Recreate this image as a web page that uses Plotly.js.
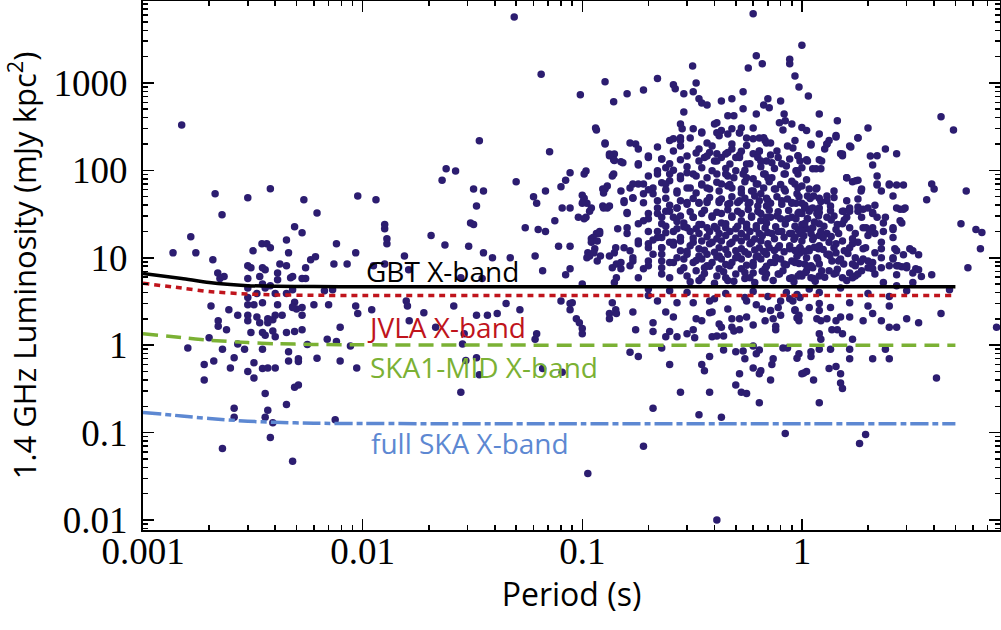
<!DOCTYPE html>
<html>
<head>
<meta charset="utf-8">
<script src="https://cdn.plot.ly/plotly-3.0.1.min.js"></script>
<style>
  html, body { margin: 0; padding: 0; background: #fff; }
  #chart { width: 1001px; height: 630px; }
</style>
</head>
<body>
<div id="chart"></div>
<script>
// Pulsar periods (s) and 1.4 GHz luminosities (mJy kpc^2).

// millisecond pulsars, P < ~0.01 s
const fastPeriod = [
  0.0015, 0.00137, 0.00165, 0.00174, 0.00213, 0.00229, 0.00208, 0.00219, 0.00234, 0.00224,
  0.00204, 0.00246, 0.0027, 0.003, 0.0038, 0.00317, 0.00348, 0.00366, 0.0038, 0.003,
  0.0031, 0.0036, 0.003, 0.0034, 0.0041, 0.0041, 0.0045, 0.0049, 0.0046, 0.0053,
  0.0054, 0.0062, 0.0058, 0.0061, 0.0055, 0.0047, 0.0048, 0.0053, 0.0055, 0.0076,
  0.0074, 0.0085, 0.0095, 0.0093, 0.0093, 0.0095, 0.0067, 0.0073, 0.006, 0.007,
  0.0049, 0.0048, 0.005, 0.0053, 0.0041, 0.0035, 0.003, 0.0032, 0.003, 0.0033,
  0.003, 0.0035, 0.0036, 0.0048, 0.004, 0.0045, 0.003, 0.0033, 0.0037, 0.004,
  0.0022, 0.0022, 0.0024, 0.003, 0.0034, 0.0037, 0.0039, 0.0043, 0.0048, 0.0053,
  0.0031, 0.0035, 0.0036, 0.0039, 0.0045, 0.0049, 0.0053, 0.0056, 0.0069, 0.0079,
  0.0076, 0.0088, 0.0094, 0.0079, 0.0062, 0.0051, 0.0051, 0.0046, 0.0046, 0.004,
  0.004, 0.0035, 0.0035, 0.0037, 0.0032, 0.0032, 0.003, 0.0029, 0.0026, 0.0025,
  0.0023, 0.0021, 0.0019, 0.0019, 0.0016, 0.002, 0.0027, 0.0036, 0.0037, 0.0045,
  0.0049, 0.0051, 0.0026, 0.0026, 0.0036, 0.0039, 0.0038, 0.0023, 0.0048, 0.0075,
  0.0045, 0.0035, 0.0042, 0.0038
];
const fastLum = [
  330, 11.4, 17.4, 11.4, 54, 31, 9.5, 6.7, 6.1, 5.8,
  2.8, 2.55, 2.2, 48.5, 61.5, 12, 14.5, 14.5, 13, 8.1,
  7.7, 7.3, 5.8, 6.1, 6.7, 5.6, 16, 22.6, 11.4, 19.3,
  46, 32.5, 9.5, 10.3, 7.7, 5.9, 6.1, 5.8, 5.8, 14.5,
  8.5, 8.5, 51, 11.4, 2.8, 2.3, 4.2, 4.3, 2.9, 2.9,
  3.1, 2.75, 2.6, 2.2, 2.9, 3.05, 2.9, 2.9, 3.5, 3.9,
  4.5, 5.0, 4.5, 4.3, 3.9, 3.9, 2.2, 2.1, 2.0, 2.2,
  1.9, 1.65, 1.5, 1.9, 1.8, 1.8, 1.95, 2.2, 2.7, 2.7,
  1.4, 1.4, 1.3, 1.45, 1.4, 1.43, 1.5, 1.02, 1.17, 1.6,
  1.1, 0.98, 0.55, 0.66, 0.71, 0.7, 0.65, 0.66, 0.84, 1.25,
  0.55, 0.54, 0.9, 0.55, 0.63, 0.42, 0.5, 0.9, 0.72, 0.55,
  0.9, 0.66, 0.6, 0.4, 0.93, 1.22, 1.03, 0.28, 0.18, 0.21,
  0.33, 0.35, 0.19, 0.15, 0.15, 0.13, 0.088, 0.066, 0.047, 0.14,
  8.1, 7.7, 8.5, 4.8
];

// the sparse gap, 0.01 - 0.1 s
const midPeriod = [
  0.0115, 0.0126, 0.0129, 0.0112, 0.0126, 0.011, 0.049, 0.065, 0.098, 0.034,
  0.071, 0.024, 0.0265, 0.023, 0.05, 0.032, 0.0355, 0.033, 0.088, 0.084,
  0.08, 0.068, 0.06, 0.062, 0.081, 0.088, 0.075, 0.055, 0.063, 0.068,
  0.031, 0.032, 0.0205, 0.0129, 0.0126, 0.0237, 0.0304, 0.0355, 0.039, 0.047,
  0.061, 0.078, 0.088, 0.088, 0.066, 0.084, 0.0155, 0.0162, 0.028, 0.035,
  0.0158, 0.016, 0.026, 0.019, 0.041, 0.045, 0.052, 0.037, 0.033, 0.0163,
  0.0215, 0.029, 0.0285, 0.033, 0.0295, 0.034, 0.028, 0.062, 0.061, 0.066,
  0.081, 0.08, 0.088, 0.088, 0.09, 0.094, 0.097
];
const midLum = [
  46, 21.5, 14.5, 8.1, 8.5, 2.55, 5680, 1260, 730, 218,
  163, 104, 98, 77, 74, 61, 58, 39, 94, 77,
  65, 58, 50, 42, 37, 37, 26.5, 22, 21, 20,
  25, 24, 18, 16.5, 24, 14, 13.5, 11.4, 10, 10,
  10.5, 13.5, 13.5, 7.5, 7.1, 6.4, 10.5, 7.3, 5.9, 5.8,
  3.2, 2.8, 2.8, 2.35, 2.3, 3.0, 2.55, 2.2, 2.2, 1.9,
  1.6, 1.35, 1.03, 0.72, 0.67, 0.46, 0.29, 1.35, 1.17, 0.54,
  0.49, 3.2, 3.0, 2.55, 3.05, 2.0, 1.8
];

// normal pulsars, P > 0.1 s
const slowPeriod = [
  0.127, 0.139, 0.115, 0.127, 0.133, 0.14, 0.139, 0.104, 0.1, 0.101,
  0.105, 0.096, 0.104, 0.11, 0.124, 0.13, 0.124, 0.133, 0.139, 0.11,
  0.114, 0.121, 0.106, 0.108, 0.12, 0.116, 0.112, 0.1, 0.1, 0.133,
  0.142, 0.106, 0.137, 0.143, 0.143, 0.133, 0.142,
  0.6, 0.62, 1.0, 0.88, 0.93, 0.97, 1.07, 1.2, 1.45,
  0.318, 0.57, 0.66, 0.88, 0.22, 0.26, 0.265, 0.33, 0.32, 0.19,
  0.16, 0.29, 0.34, 0.35, 0.37, 0.43, 0.48, 0.54, 0.29, 0.41,
  0.46, 0.49, 0.54, 0.62, 0.67, 0.7, 0.71, 0.8, 0.83, 0.79,
  0.84, 0.9, 0.82, 1.0, 1.05, 0.116, 0.28, 0.285, 0.32, 0.35,
  0.4, 0.41, 0.43, 0.48, 0.53, 0.52, 0.56, 0.6, 0.64, 0.68,
  0.72, 0.64, 0.6, 0.53, 0.48, 0.46, 0.41, 0.37, 0.34, 0.31,
  0.28, 0.25, 0.22, 0.18, 0.165, 0.175, 0.127, 0.133, 0.14, 0.15,
  0.102, 0.137, 0.2, 0.18, 0.22, 0.23, 0.24, 0.28, 0.3, 0.34,
  0.36, 0.4, 0.43, 0.47, 0.52, 0.56, 0.63, 0.69, 0.78, 0.88,
  0.98, 0.95, 0.84, 0.73, 0.67, 0.6, 0.54, 0.49, 0.46, 0.41,
  0.37, 0.33, 0.28, 0.25, 0.23, 0.2, 0.18, 0.165, 0.15, 0.127,
  0.125, 0.102, 0.1, 0.102, 0.108, 0.125, 0.13, 0.17, 0.19, 0.21,
  0.155, 0.16, 0.2, 0.22, 0.24, 0.27, 0.3, 0.33, 0.37, 0.42,
  0.46, 0.53, 0.6, 0.67, 0.76, 0.84, 0.95, 1.0, 0.9, 0.81,
  0.72, 0.64, 0.58, 0.52, 0.47, 0.42, 0.37, 0.34, 0.3, 0.27,
  0.25, 0.23, 0.19, 0.16, 0.145, 0.12, 0.11, 0.117, 0.105, 0.113,
  0.14, 0.165, 0.18, 0.2, 0.23, 0.26, 0.29, 0.32, 0.35, 0.39,
  0.43, 0.48, 0.53, 0.59, 0.65, 0.72, 0.8, 0.9, 1.0, 0.98,
  0.88, 0.78, 0.7, 0.64, 0.58, 0.53, 0.47, 0.42, 0.38, 0.34,
  0.31, 0.28, 0.25, 0.23, 0.28, 0.31, 0.34, 0.38, 0.42, 0.47,
  0.53, 0.58, 0.64, 0.7, 0.78, 0.88, 0.98, 0.9, 0.8, 0.72,
  0.65, 0.6, 0.53, 0.48, 0.43, 0.39, 0.35, 0.32, 0.29, 0.26,
  0.23, 0.2, 0.17, 0.15, 0.117,
  0.15, 0.165, 0.19, 0.2, 0.23, 0.25, 0.28, 0.3, 0.34, 0.36,
  0.41, 0.46, 0.5, 0.55, 0.6, 0.68, 0.78, 0.88, 0.98, 0.14,
  0.137, 0.143, 0.133, 0.17, 0.175, 0.21, 0.21, 0.24, 0.25, 0.24,
  0.26, 0.27, 0.3, 0.32, 0.325, 0.33, 0.35, 0.38, 0.39, 0.42,
  0.39, 0.41, 0.43, 0.44, 0.48, 0.48, 0.49, 0.52, 0.52, 0.56,
  0.6, 0.46, 0.68, 0.74, 0.76, 0.76, 0.8, 0.78, 0.72, 0.66,
  0.62, 0.56, 0.93, 0.95, 0.97, 0.8, 0.88, 0.38, 0.32, 0.27,
  0.22, 0.2, 0.1, 0.165, 0.18, 0.23, 0.25, 0.35, 0.36, 0.38,
  0.44, 0.5, 0.54, 0.55, 0.6, 0.64, 0.62, 0.6, 0.65, 0.64,
  0.52, 0.5, 0.53, 0.56, 0.73, 0.72, 0.74, 0.82, 0.86, 0.95,
  0.97, 1.0, 1.05, 0.28, 0.38, 0.21, 0.34, 0.43, 0.64, 0.84,
  0.19, 0.41,
  2.0, 4.3, 4.9, 1.2, 1.3, 1.33, 1.43, 1.1, 1.27, 1.67,
  1.8, 1.5, 1.53, 0.93, 0.91, 0.96, 1.05, 1.2, 1.12, 1.22,
  2.2, 2.4, 2.7, 2.1, 2.2, 1.6, 1.7, 1.8, 1.87, 2.2,
  2.3, 2.5, 2.7, 2.9, 2.6, 3.9, 4.0, 3.7, 5.6, 5.3,
  6.2, 6.6, 6.5, 5.7, 3.3, 3.4, 3.2, 2.9, 2.95, 2.8,
  2.85, 2.6, 2.6, 2.7, 2.6, 2.4, 2.35, 2.2, 2.15, 2.0,
  2.1, 2.1, 2.15, 2.3, 2.0, 1.9, 1.8, 1.8, 1.9, 1.65,
  1.6, 1.55, 1.6, 1.53, 1.65, 1.75, 1.8, 1.95, 2.15, 2.3,
  2.0, 1.9, 1.75, 1.65, 1.53, 1.47, 1.43, 1.4, 1.35, 1.4,
  1.3, 1.2, 1.13, 1.17, 1.08, 1.0, 0.96, 1.0, 0.93, 0.94,
  1.03, 1.08, 1.0, 0.94, 1.06, 1.17, 1.2, 1.3, 1.2, 1.12,
  1.05, 0.96, 0.93, 1.0, 1.13, 1.2, 1.33, 1.2, 1.08, 0.98,
  1.05, 1.17, 1.3, 1.43, 1.37, 1.2, 1.1, 0.97, 1.55, 1.75,
  2.0, 2.3, 2.5, 3.0,
  3.9, 3.5, 3.4, 3.2, 2.85, 2.7, 2.7, 2.15, 2.1, 2.1,
  1.8, 1.75, 1.65, 1.53, 1.4, 1.33, 1.2, 1.13, 1.05, 0.96,
  2.35, 2.7, 3.2, 4.7, 2.5, 2.5, 2.0, 1.65, 1.65, 1.5,
  1.35, 1.2, 1.2, 1.08, 0.98, 0.91, 0.93, 0.97, 1.17, 1.22,
  1.3, 1.43, 1.9, 2.3, 2.1, 2.5, 2.7, 3.0, 3.4, 4.3,
  7.7, 1.37, 1.45, 1.53, 1.2, 1.22, 1.7, 1.2, 1.35, 1.65,
  1.65, 2.1, 2.4, 2.5, 1.1, 1.1, 1.33, 1.43, 1.5, 1.02,
  1.13, 1.5, 1.53, 1.2, 4.1, 1.95, 1.83, 1.2, 1.08, 1.5,
  2.0, 3.0
];
const slowLum = [
  1030, 610, 305, 206, 154, 154, 132, 98, 52, 44,
  42, 29, 29, 37, 61, 66, 39, 39, 91, 16.5,
  12.7, 10.5, 11.4, 10.5, 20, 19, 17, 1.55, 5.0, 2.3,
  2.55, 0.034, 7.7, 8.5, 5.9, 10.5, 13,
  6200, 2040, 2700, 1860, 1200, 900, 710, 440, 370,
  1560, 1480, 1660, 1660, 1120, 950, 860, 1000, 790, 830,
  750, 750, 660, 590, 560, 620, 660, 790, 465, 350,
  420, 420, 505, 440, 560, 660, 520, 620, 440, 350,
  370, 340, 290, 310, 285, 290, 340, 300, 300, 275,
  340, 270, 285, 300, 305, 270, 235, 305, 235, 220,
  205, 165, 155, 165, 175, 160, 155, 205, 175, 235,
  220, 220, 185, 175, 205, 200, 200, 147, 130, 125,
  91, 86, 140, 115, 99, 135, 107, 132, 94, 128,
  140, 128, 140, 118, 140, 118, 140, 128, 140, 135,
  128, 99, 91, 82, 91, 80, 91, 82, 86, 91,
  82, 86, 80, 76, 72, 86, 70, 63, 58, 61,
  55, 48, 42, 28, 34, 37, 37, 48, 54, 63,
  43, 33, 32, 37, 48, 55, 63, 55, 63, 58,
  66, 61, 58, 63, 61, 58, 54, 42, 42, 45,
  42, 45, 43, 45, 42, 45, 43, 42, 43, 37,
  34, 29, 26.5, 22, 21.5, 19, 15, 15.6, 10, 11.4,
  11.4, 12, 14.5, 13, 17, 20, 25, 29, 24, 29,
  25, 29, 26.5, 29, 26.5, 29, 28, 29, 24, 19,
  19, 20, 19.5, 19, 20, 19, 20, 19, 20, 19,
  20, 17, 15, 13, 12, 13.7, 12.7, 14.5, 13, 14.5,
  12.7, 14.5, 13, 14.5, 13, 13.7, 13, 9.2, 9.7, 8.8,
  9.7, 8.8, 9.7, 8.8, 9.7, 8.8, 9.7, 8.8, 9.7, 8.8,
  9.2, 9.2, 9.2, 8.8, 9.2,
  7.5, 8.1, 7.5, 8.1, 6.5, 5.9, 7.1, 6.2, 5.5, 7.7,
  6.2, 5.5, 6.5, 5.8, 6.7, 5.9, 6.5, 5.8, 6.5, 5.2,
  3.05, 2.3, 2.0, 2.4, 1.5, 1.43, 1.8, 2.4, 1.43, 1.25,
  2.1, 1.25, 1.35, 1.5, 1.22, 2.0, 1.9, 2.35, 2.4, 1.75,
  1.25, 1.27, 1.6, 1.27, 2.0, 1.6, 1.45, 2.0, 1.5, 2.1,
  1.7, 2.6, 1.9, 2.0, 1.65, 1.5, 2.2, 2.7, 2.5, 2.6,
  2.9, 3.2, 2.5, 2.05, 1.9, 3.2, 3.4, 3.2, 3.05, 3.05,
  3.2, 3.7, 1.35, 0.83, 0.74, 0.93, 0.6, 0.6, 0.51, 0.74,
  0.88, 0.84, 0.86, 0.7, 0.98, 0.88, 0.8, 0.55, 0.51, 0.47,
  0.47, 0.35, 0.29, 0.28, 0.6, 0.4, 0.7, 0.93, 0.93, 0.71,
  0.8, 0.47, 0.5, 0.29, 0.29, 0.19, 0.16, 0.15, 0.22, 0.098,
  0.07, 0.01,
  305, 410, 290, 260, 200, 220, 240, 195, 175, 185,
  235, 155, 147, 220, 180, 147, 132, 132, 104, 104,
  147, 175, 155, 115, 86, 82, 74, 77, 61, 68,
  58, 68, 68, 68, 51, 70, 61, 46, 58, 24.5,
  21, 19.5, 12.7, 7.7, 7.5, 10.8, 12, 10.8, 37, 36,
  25, 21, 17, 12, 9.7, 29, 25, 29, 40, 37,
  32, 22, 19, 15, 18, 22, 47, 38, 36, 37,
  45, 34, 29, 24.5, 22, 19, 15, 13, 11.4, 10,
  9.2, 9.7, 10, 13, 15.6, 19, 21, 30, 39, 49,
  51, 48, 51, 63, 61, 66, 91, 107, 70, 42,
  40, 34, 32, 28, 28, 32, 37, 29, 24.5, 22,
  21.5, 21, 17, 15.6, 17, 18, 15, 13.7, 12.7, 11.4,
  10, 10, 11, 11.4, 9.2, 8.5, 8.1, 8.6, 8.5, 8.1,
  7.7, 7.7, 8.1, 7.7,
  6.4, 6.1, 7.3, 6.7, 7.9, 8.1, 6.4, 6.5, 7.5, 8.8,
  6.5, 6.2, 6.7, 5.9, 6.5, 7.1, 6.2, 5.8, 7.1, 6.2,
  5.2, 4.8, 5.2, 4.3, 3.6, 2.8, 2.8, 3.05, 2.1, 2.1,
  2.7, 3.0, 2.5, 2.7, 3.5, 3.2, 2.55, 2.2, 2.0, 1.9,
  2.0, 1.9, 1.9, 1.9, 2.3, 1.6, 1.6, 2.0, 1.8, 2.3,
  1.6, 1.5, 1.5, 1.35, 1.35, 1.17, 1.17, 0.9, 0.9, 0.9,
  0.7, 0.7, 0.9, 0.7, 0.84, 0.74, 0.54, 0.57, 0.47, 0.48,
  0.4, 0.37, 0.32, 0.22, 0.42, 0.095, 0.075, 4.0, 4.4, 4.5,
  3.9, 4.2
];

// the crowded core of the normal-pulsar cloud, read from close-up views
const corePeriod = [
  0.26, 0.28, 0.35, 0.42, 0.46, 0.52, 0.6, 0.67, 0.64, 0.56,
  0.48, 0.39, 0.33, 0.28, 0.26, 0.2, 0.18, 0.153, 0.23, 0.25,
  0.3, 0.37, 0.41, 0.45, 0.5, 0.58, 0.65, 0.68, 0.62, 0.56,
  0.5, 0.45, 0.39, 0.35, 0.32, 0.28, 0.25, 0.22, 0.19, 0.17,
  0.155, 0.16, 0.17, 0.19, 0.21, 0.24, 0.27, 0.31, 0.35, 0.38,
  0.43, 0.48, 0.53, 0.59, 0.65, 0.69, 0.63, 0.57, 0.51, 0.46,
  0.42, 0.37, 0.34, 0.3, 0.27, 0.24, 0.22, 0.2, 0.18, 0.16,
  0.155, 0.17, 0.18, 0.2, 0.23, 0.26, 0.28, 0.32, 0.35, 0.39,
  0.43, 0.48, 0.53, 0.59, 0.65, 0.68, 0.62, 0.56, 0.5, 0.45,
  0.41, 0.37, 0.33, 0.3, 0.27, 0.24, 0.22, 0.2, 0.21, 0.23,
  0.26, 0.28, 0.32, 0.35, 0.39, 0.43, 0.48, 0.53, 0.59, 0.65,
  0.69, 0.63, 0.57, 0.51, 0.46, 0.42, 0.37, 0.34, 0.3, 0.27,
  0.25, 0.23, 0.29, 0.33, 0.37, 0.42, 0.47, 0.53, 0.6, 0.68,
  0.35, 0.45, 0.58, 0.18,
  0.69, 0.77, 0.86, 0.96, 1.1, 1.3, 1.43, 1.65, 1.8, 1.53,
  1.06, 1.16, 1.23, 0.73, 0.81, 0.83, 0.94, 1.6, 1.76, 1.86,
  2.2, 2.5, 2.05, 0.7, 0.75, 0.83, 0.96, 1.06, 1.16, 1.4,
  1.3, 1.12, 1.03, 0.9, 0.81, 0.7, 0.69, 0.77, 0.86, 0.96,
  1.06, 1.19, 1.36, 1.53, 1.65, 1.56, 1.8, 1.87, 2.1, 1.96,
  2.04, 2.35, 2.7, 2.9, 2.8, 2.6, 2.65, 3.1, 2.6, 2.75,
  3.0, 2.3, 1.9, 1.7, 1.56, 1.43, 1.3, 1.22, 1.1, 1.0,
  0.9, 0.81, 0.73, 0.71, 0.79, 0.88, 0.98, 1.08, 1.19, 1.33,
  1.47, 1.7, 1.87, 2.05, 1.43, 1.23, 1.12, 1.03, 0.93, 0.83,
  0.75, 0.69, 0.79, 0.9, 1.0, 1.1, 1.7
];
const coreLum = [
  230, 236, 268, 248, 260, 268, 230, 236, 166, 193,
  200, 190, 158, 190, 166, 146, 119, 122, 135, 119,
  146, 146, 128, 154, 140, 119, 128, 91, 70, 82,
  99, 91, 99, 107, 91, 86, 91, 91, 70, 70,
  45, 32, 48.5, 42.5, 54, 70, 58, 63, 70, 61,
  70, 63, 55, 58, 54, 39, 39, 41, 43, 41,
  43, 45, 43, 41, 37, 34, 32, 28, 24.5, 19,
  13, 10, 15.6, 20, 24.5, 29, 30, 29, 32, 30,
  32, 30, 32, 30, 32, 22, 21.5, 22, 21.5, 22,
  21.5, 22, 21.5, 22, 21.5, 19.3, 17, 14.5, 11, 13,
  15, 15.6, 15, 15.6, 15, 15.6, 15, 15.6, 15, 15.6,
  11, 10.5, 11, 10.5, 11, 10.5, 11, 10.5, 11, 10,
  8.8, 7.7, 7.7, 7.1, 8.1, 7.5, 8.1, 7.5, 8.1, 7.5,
  5.9, 5.9, 5.9, 5.9,
  206, 166, 190, 146, 200, 200, 250, 190, 236, 154,
  128, 104, 128, 122, 119, 91, 99, 82, 76, 58,
  70, 70, 146, 82, 61, 61, 63, 51, 61, 58,
  45, 37, 37, 43, 41, 45, 29, 30, 28, 32,
  28, 30, 27, 34, 34, 27, 34, 29, 33, 22,
  20, 20, 37, 36, 26.5, 22, 12.7, 12.7, 10, 8.1,
  8.1, 12.7, 12.7, 14.5, 12, 14.5, 19, 20, 19, 20,
  19, 20, 19, 13, 13.7, 12.7, 13, 12, 12.7, 11,
  9.2, 8.5, 7.1, 7.7, 6.7, 7.1, 7.7, 8.5, 8.8, 8.5,
  8.8, 6.5, 6.5, 5.9, 6.2, 5.9, 5.9
];

// the solid patches inside the core, where the dots merge together
const packedPeriod = [
  0.31, 0.36, 0.40, 0.44, 0.49, 0.55, 0.61, 0.66, 0.74, 0.82, 0.92, 1.04, 1.15, 1.27, 1.45, 1.6,
  0.33, 0.38, 0.41, 0.45, 0.5, 0.56, 0.62, 0.69, 0.76, 0.85, 0.95, 1.06, 1.18, 1.34, 1.5, 1.85,
  0.30, 0.36, 0.40, 0.45, 0.50, 0.55, 0.61, 0.67, 0.75, 0.83, 0.93, 1.03, 1.14, 1.25, 1.4, 1.62,
  0.32, 0.37, 0.41, 0.45, 0.50, 0.56, 0.61, 0.66, 0.75, 0.83, 0.92, 1.02, 1.12, 1.25, 1.36, 1.7,
  0.29, 0.34, 0.40, 0.45, 0.51, 0.56, 0.62, 0.69, 0.76, 0.84, 0.93, 1.03, 1.14, 1.26, 1.45,
  0.31, 0.36, 0.41, 0.46, 0.51, 0.57, 0.63, 0.71, 0.78, 0.87, 0.97, 1.08, 1.2, 1.35,
  0.32, 0.38, 0.43, 0.48, 0.55, 0.61, 0.69, 0.77, 0.86, 0.97, 1.09, 1.22,
  0.35, 0.41, 0.47, 0.55, 0.63, 0.71, 0.8, 0.9, 1.05,
  0.27, 0.24, 0.22, 0.26, 0.23, 0.21, 0.25, 0.22, 0.28, 0.2, 0.24,
  0.26, 0.3, 0.45, 0.55, 0.65, 0.75, 0.85, 0.72, 0.52, 0.38,
  0.3, 0.45, 0.6, 0.7, 0.85, 0.4, 0.55, 0.25, 0.2, 0.95
];
const packedLum = [
  5.3, 6.6, 5.1, 6.9, 5.4, 6.8, 5.2, 7.0, 5.5, 7.1, 5.3, 6.8, 5.4, 6.0, 7.4, 5.5,
  9.3, 8.0, 10.2, 8.4, 10.0, 8.2, 10.3, 8.0, 10.1, 8.3, 10.4, 8.0, 9.6, 10.5, 9.7, 9.0,
  11.9, 12.2, 11.6, 12.4, 12.0, 11.7, 12.3, 11.8, 12.1, 11.7, 12.1, 11.9, 13.2, 12.4, 13.0, 11.2,
  16.8, 17.4, 16.5, 18.0, 16.8, 17.3, 16.4, 17.8, 16.5, 17.2, 16.3, 17.8, 16.2, 16.9, 17.5, 16.5,
  22.6, 24.0, 22.8, 24.5, 23.0, 24.2, 23.2, 24.8, 22.7, 24.3, 22.9, 24.6, 25.6, 23.0, 24.0,
  33.5, 35.0, 33.2, 35.4, 34.0, 35.6, 33.8, 35.0, 33.6, 34.8, 33.2, 36.0, 33.0, 34.5,
  47.5, 49, 47, 50, 48, 51, 48, 50, 47, 50, 47.5, 44,
  68, 73, 69, 74, 70, 74, 69, 75, 78,
  26, 23, 20, 14, 11, 16, 40, 45, 45, 60, 60,
  100, 110, 105, 100, 110, 105, 112, 150, 150, 160,
  4.0, 3.9, 4.1, 3.6, 4.0, 3.4, 3.5, 4.2, 4.4, 3.8
];

// X-band search sensitivity curves
const sensPeriod = [0.001, 0.0015, 0.002, 0.003, 0.004, 0.006, 0.01, 0.1, 1, 5];
const gbtLimit = [6.6, 5.8, 5.2, 4.8, 4.72, 4.68, 4.67, 4.67, 4.67, 4.67];
const jvlaLimit = [5.1, 4.5, 4.1, 3.85, 3.76, 3.72, 3.7, 3.7, 3.7, 3.7];
const ska1Limit = [1.35, 1.22, 1.14, 1.07, 1.04, 1.02, 1.01, 1.0, 1.0, 1.0];
const fullSkaLimit = [0.17, 0.155, 0.145, 0.135, 0.131, 0.128, 0.127, 0.126, 0.126, 0.126];

const xTickVals = [0.001, 0.01, 0.1, 1];
const xTickText = ["0.001", "0.01", "0.1", "1"];
const yTickVals = [0.01, 0.1, 1, 10, 100, 1000];
const yTickText = ["0.01", "0.1", "1", "10", "100", "1000"];

const RED = "#c0141c";
const GREEN = "#7bb134";
const BLUE = "#5d88d2";
const DOT = "#2c1d70";

function minorTicks(fromExp, toExp) {
  const out = [];
  for (let e = fromExp; e <= toExp; e++) {
    for (let m = 2; m <= 9; m++) out.push(m * Math.pow(10, e));
  }
  return out;
}

const period = fastPeriod.concat(midPeriod, slowPeriod, corePeriod, packedPeriod);
const lum = fastLum.concat(midLum, slowLum, coreLum, packedLum);

const traces = [
  {
    x: period, y: lum, type: "scatter", mode: "markers",
    marker: { color: DOT, size: 7.5, line: { width: 0 } },
    hoverinfo: "x+y"
  },
  {
    x: sensPeriod, y: gbtLimit, type: "scatter", mode: "lines",
    line: { color: "#000", width: 3.5, shape: "spline", smoothing: 0.6 }, hoverinfo: "skip"
  },
  {
    x: sensPeriod, y: jvlaLimit, type: "scatter", mode: "lines",
    line: { color: RED, width: 3.5, dash: "6px,5px", shape: "spline", smoothing: 0.6 }, hoverinfo: "skip"
  },
  {
    x: sensPeriod, y: ska1Limit, type: "scatter", mode: "lines",
    line: { color: GREEN, width: 3.5, dash: "15px,8px", shape: "spline", smoothing: 0.6 }, hoverinfo: "skip"
  },
  {
    x: sensPeriod, y: fullSkaLimit, type: "scatter", mode: "lines",
    line: { color: BLUE, width: 3.5, dash: "18px,4px,6px,4px", shape: "spline", smoothing: 0.6 }, hoverinfo: "skip"
  }
];

const TICK_FONT = { family: "Liberation Serif, Times New Roman, serif", size: 37, color: "#000" };
const SANS = "Open Sans, Noto Sans, sans-serif";

function axis(extra) {
  return Object.assign({
    type: "log",
    showline: true, linecolor: "#000", linewidth: 2, mirror: "ticks",
    ticks: "inside", ticklen: 11, tickwidth: 1.5, tickcolor: "#000",
    tickmode: "array",
    showgrid: false, zeroline: false,
    tickfont: TICK_FONT
  }, extra);
}

function label(text, lx, ly, color) {
  return {
    text: text, x: Math.log10(lx), y: Math.log10(ly), xref: "x", yref: "y",
    showarrow: false, font: { family: SANS, size: 28, color: color }
  };
}

const layout = {
  width: 1001, height: 630,
  margin: { l: 143, r: 1, t: 1, b: 100 },
  paper_bgcolor: "#fff", plot_bgcolor: "#fff",
  showlegend: false,
  xaxis: axis({
    range: [-3, 0.902],
    ticklabelstandoff: -12,
    tickvals: xTickVals, ticktext: xTickText,
    minor: { tickmode: "array", tickvals: minorTicks(-3, 0), ticks: "inside", ticklen: 5, tickwidth: 1.5, tickcolor: "#000" },
    title: { text: "Period (s)", font: { family: SANS, size: 32, color: "#000" }, standoff: 2 }
  }),
  yaxis: axis({
    range: [-2.114, 3.937],
    ticklabelstandoff: 6,
    tickvals: yTickVals, ticktext: yTickText,
    minor: { tickmode: "array", tickvals: minorTicks(-3, 3), ticks: "inside", ticklen: 5, tickwidth: 1.5, tickcolor: "#000" },
    title: { text: "1.4 GHz Luminosity (mJy kpc<sup>2</sup>)", font: { family: SANS, size: 31, color: "#000" }, standoff: 10 }
  }),
  annotations: [
    label("GBT X-band", 0.023, 7.1, "#000"),
    label("JVLA X-band", 0.0242, 1.63, RED),
    label("SKA1-MID X-band", 0.0356, 0.57, GREEN),
    label("full SKA X-band", 0.0308, 0.077, BLUE)
  ]
};

Plotly.newPlot("chart", traces, layout, { displayModeBar: false, staticPlot: true });
</script>
</body>
</html>
